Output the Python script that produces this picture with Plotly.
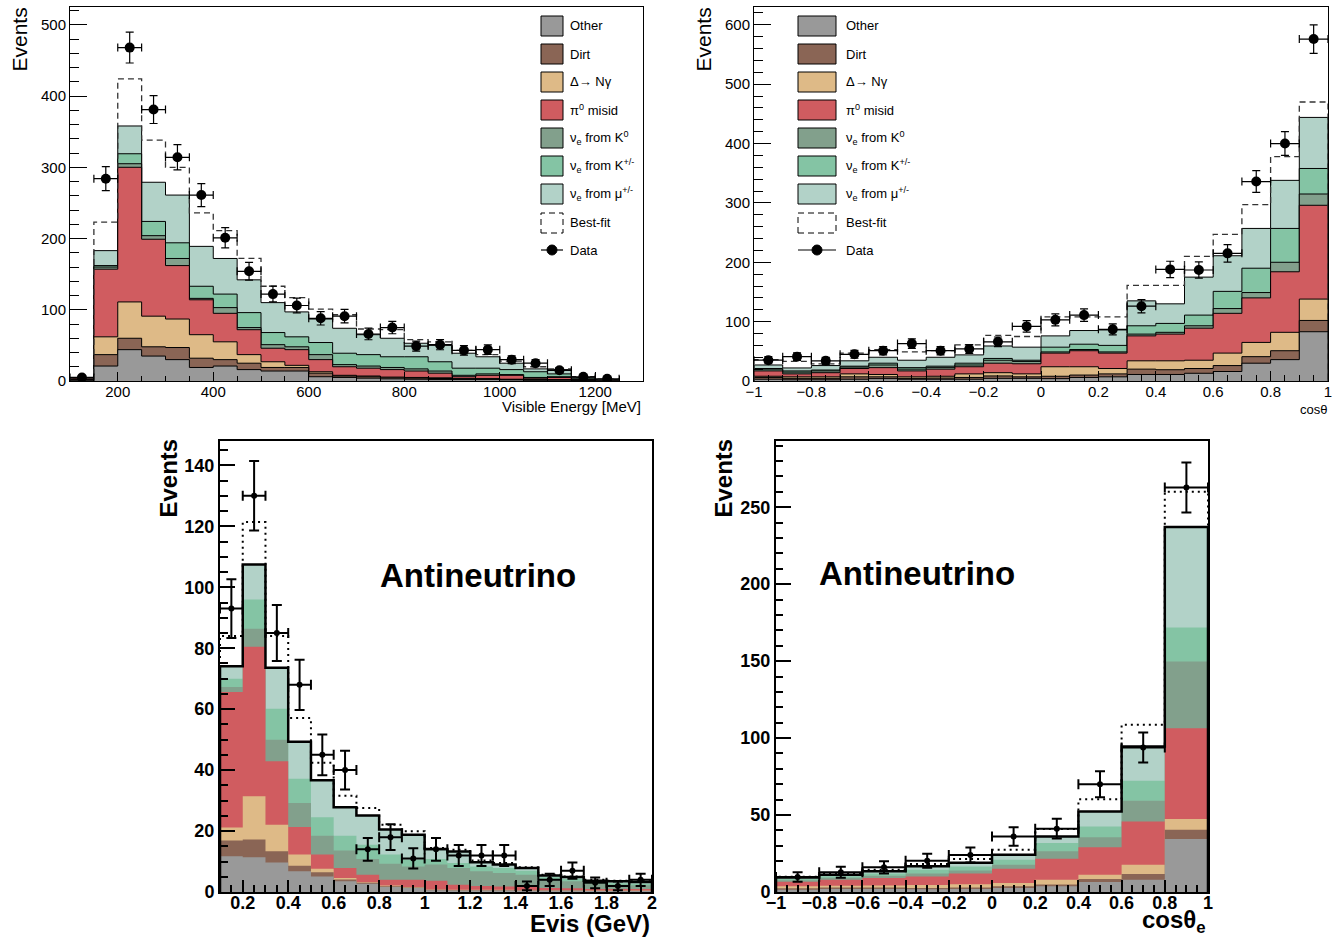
import numpy as np
import plotly.graph_objects as go

W, H = 1336, 940
FONT = "Liberation Sans, Arial, Helvetica, sans-serif"

LABELS = ["Other", "Dirt", "Δ→ Nγ", "π<sup>0</sup> misid",
          "ν<sub>e</sub> from K<sup>0</sup>", "ν<sub>e</sub> from K<sup>+/-</sup>",
          "ν<sub>e</sub> from μ<sup>+/-</sup>"]
COLORS = ["#999999", "#8a6555", "#deba87", "#d05c60", "#82a08c", "#84c4a4", "#b2d2c8"]

# ---------------- top-left: visible energy [MeV] ----------------
E_EDGES = list(range(100, 1300, 50))
E_OTHER = [1, 21, 44, 35, 30, 19, 21, 16, 14, 14, 6, 5, 4, 3, 2.5, 2, 2, 2, 1.5, 1, 1, 0.5, 0.2]
E_DIRT = [1, 16, 16, 13, 17, 13, 9, 9, 5, 5, 5, 2, 2, 1.5, 1.5, 1.5, 1, 1, 0.5, 0.5, 0.5, 0.3, 0.1]
E_DELTA = [0.5, 25, 51, 43, 40, 33, 25, 12, 8, 3, 2, 1, 1, 1, 1, 1, 0.5, 0.5, 0.5, 0.5, 0.5, 0.2, 0.1]
E_PI0 = [1.5, 95, 189, 108, 75, 49, 40, 35, 19, 22, 17, 12, 11, 10.5, 9, 6.5, 2.5, 4.5, 5.5, 2, 3, 1, 0.1]
E_K0 = [0, 3, 5, 5, 10, 2, 8, 3, 5, 4, 7, 3, 3, 3, 3, 3, 2, 2, 1, 1, 1, 0.5, 0.2]
E_KPM = [0.2, 2, 14, 20, 22, 17, 19, 21, 17, 14, 17, 16, 16, 15, 17, 13, 10, 8, 7, 8, 4, 1.5, 0.3]
E_MU = [0.3, 21, 39, 55, 67, 56, 50, 46, 42, 35, 33, 35, 28, 26, 19, 23, 21, 16, 9, 4, 6, 1, 1]
E_BESTFIT = [4.5, 223, 424, 338, 300, 236, 211, 172, 133, 117, 101, 93, 73, 72, 58, 55, 43, 37, 28, 20, 17, 6, 2.5]
E_DATA = [5, 284, 468, 381, 314, 261, 201, 154, 122, 106, 88, 91, 66, 75, 49, 51, 43, 44, 30, 25, 15, 6, 3]

# ---------------- top-right: cos theta ----------------
C_EDGES = [round(-1 + 0.1 * i, 2) for i in range(21)]
C_OTHER = [3, 2, 2, 3, 4, 3, 3, 3, 4.5, 4.5, 4, 6, 7, 11, 11, 13, 16, 30, 36, 83]
C_DIRT = [3, 2.5, 2.5, 4, 3, 1.5, 2, 3, 4, 2.5, 4, 4, 5, 9, 8, 8, 10, 11, 15, 19]
C_DELTA = [2, 2.5, 2.5, 5, 4, 2.5, 3, 6, 5.5, 5, 16, 14, 9, 14, 15, 14, 21, 24, 31, 36]
C_PI0 = [9, 5, 7, 9, 11.5, 10, 12, 12, 16, 17, 23, 27, 26, 42, 45, 54, 67, 75, 102, 158]
C_K0 = [3, 3, 3, 2.5, 4.5, 3, 3, 3, 5, 4, 2, 2, 2, 3, 3, 4, 8, 9, 16, 19]
C_KPM = [1, 2, 1.5, 1.5, 3, 2.5, 2, 3, 3, 2, 8, 9, 11, 14, 15, 18, 29, 41, 57, 43]
C_MU = [6, 5, 7.5, 9, 10, 12.5, 15, 14, 21, 22, 19, 23, 26, 42, 33, 64, 60, 67, 81, 86]
C_BESTFIT = [36, 33, 29, 47, 53, 49, 51, 61, 77, 75, 108, 108, 108, 161, 161, 210, 247, 297, 378, 470]
C_DATA = [35, 41, 34, 45, 51, 63, 51, 54, 66, 92, 103, 111, 87, 126, 188, 187, 215, 336, 400, 576]

# ---------------- bottom-left: antineutrino Evis [GeV] ----------------
A_EDGES = [round(0.1 + 0.1 * i, 2) for i in range(20)]
A_OTHER = [11.7, 11.4, 9.7, 6.8, 5.1, 3.5, 2.7, 1.6, 1.3, 0.6, 0.5, 0.5, 0.5, 0.4, 0.4, 0.4, 0.3, 0.3, 0.3]
A_DIRT = [5.2, 5.8, 3.7, 1.8, 1.4, 0.6, 0.3, 0.3, 0.2, 0.1, 0.1, 0.1, 0.1, 0.1, 0.1, 0.1, 0.1, 0.1, 0.1]
A_DELTA = [4.3, 14.2, 8.7, 3.7, 1.1, 0.5, 0.2, 0.2, 0.1, 0.1, 0.1, 0.1, 0.1, 0.1, 0.1, 0.1, 0.1, 0.1, 0.1]
A_PI0 = [44.4, 49.1, 20.8, 9.0, 4.7, 3.3, 2.5, 1.9, 2.4, 2.9, 1.7, 1.3, 1.1, 1.0, 0.7, 0.6, 0.5, 0.5, 0.5]
A_K0 = [1.7, 5.9, 7.1, 7.9, 6.2, 5.7, 5.1, 5.3, 4.4, 5.3, 5.5, 4.8, 4.4, 4.1, 2.7, 2.3, 1.7, 1.4, 1.2]
A_KPM = [2.7, 9.6, 10.1, 8.0, 6.0, 4.9, 4.7, 3.0, 2.2, 1.8, 1.6, 1.6, 1.7, 1.3, 0.8, 0.8, 0.5, 0.5, 0.5]
A_MU = [4.1, 11.5, 13.5, 12.1, 12.2, 9.3, 9.6, 8.2, 8.2, 3.3, 3.8, 1.4, 1.1, 0.9, 0.6, 0.6, 0.5, 0.6, 0.6]
A_BESTFIT = [84, 121.4, 84, 57.1, 42.4, 31.6, 27.6, 22.1, 19.9, 14.4, 13.9, 10.3, 9.5, 8.1, 5.7, 5.1, 4.0, 3.7, 3.5]
A_DATA = [93, 130, 85, 68, 45, 40, 14, 18, 11, 14, 12, 12, 12, 2, 4, 7, 3, 2, 4]

# ---------------- bottom-right: antineutrino cos theta_e ----------------
B_EDGES = [round(-1 + 0.2 * i, 2) for i in range(11)]
B_OTHER = [1.5, 1.9, 1.9, 1.8, 2.0, 2.6, 3.7, 6.5, 8.0, 34.4]
B_DIRT = [0.9, 1.1, 1.1, 0.8, 1.0, 1.1, 1.1, 1.9, 3.7, 6.0]
B_DELTA = [1.3, 1.1, 1.3, 1.9, 2.0, 2.1, 3.2, 2.8, 6.0, 7.0]
B_PI0 = [3.0, 3.9, 4.8, 5.5, 7.0, 9.3, 13.6, 17.8, 28.1, 59.0]
B_K0 = [0.9, 1.2, 1.4, 2.0, 2.0, 2.6, 4.8, 6.5, 13.5, 43.3]
B_KPM = [0.8, 1.1, 1.5, 2.5, 2.5, 3.3, 5.4, 7.1, 12.9, 22.2]
B_MU = [1.1, 0.9, 1.4, 2.2, 2.5, 3.2, 4.2, 9.7, 22.3, 65.3]
B_BESTFIT = [9.9, 12.3, 14.5, 18.2, 21.4, 27.5, 41.0, 60.3, 108.6, 260.0]
B_DATA = [9.7, 12.8, 16, 20.3, 24, 36.1, 41.1, 70, 93.9, 262.8]


def steps(edges, vals):
    n = len(vals)
    x = [edges[0]] + list(edges[:n]) + [edges[n], edges[n]]
    y = [0.0] + [float(v) for v in vals] + [float(vals[-1]), 0.0]
    return x, y


fig = go.Figure()


def add_panel(xa, ya, edges, comps, bestfit, data, top):
    comps = np.array(comps, dtype=float)
    cum = np.cumsum(comps, axis=0)
    for i in range(len(comps) - 1, -1, -1):
        x, y = steps(edges, cum[i])
        if top:
            line = dict(shape="hv", color="black", width=1)
        else:
            line = dict(shape="hv", color=COLORS[i], width=0)
        fig.add_trace(go.Scatter(x=x, y=y, mode="lines", line=line, fill="tozeroy",
                                 fillcolor=COLORS[i], xaxis=xa, yaxis=ya,
                                 hoverinfo="skip", showlegend=False))
    if not top:
        x, y = steps(edges, cum[-1])
        fig.add_trace(go.Scatter(x=x, y=y, mode="lines",
                                 line=dict(shape="hv", color="black", width=2.5),
                                 xaxis=xa, yaxis=ya, hoverinfo="skip", showlegend=False))
    x, y = steps(edges, bestfit)
    if top:
        bl = dict(shape="hv", color="#333333", width=1.3, dash="6px,4px")
    else:
        bl = dict(shape="hv", color="black", width=2, dash="2px,4px")
    fig.add_trace(go.Scatter(x=x, y=y, mode="lines", line=bl, xaxis=xa, yaxis=ya,
                             hoverinfo="skip", showlegend=False))
    e = np.array(edges, dtype=float)
    centers = (e[:-1] + e[1:]) / 2
    half = (e[1:] - e[:-1]) / 2
    d = np.array(data, dtype=float)
    th = 1.2 if top else 2
    cap = 4 if top else 5
    fig.add_trace(go.Scatter(
        x=centers, y=d, mode="markers",
        marker=dict(color="black", size=10 if top else 6),
        error_x=dict(type="data", array=half, color="black", thickness=th, width=cap),
        error_y=dict(type="data", array=np.sqrt(d), color="black", thickness=th, width=cap),
        xaxis=xa, yaxis=ya, hoverinfo="skip", showlegend=False))


add_panel("x", "y", E_EDGES, [E_OTHER, E_DIRT, E_DELTA, E_PI0, E_K0, E_KPM, E_MU], E_BESTFIT, E_DATA, True)
add_panel("x2", "y2", C_EDGES, [C_OTHER, C_DIRT, C_DELTA, C_PI0, C_K0, C_KPM, C_MU], C_BESTFIT, C_DATA, True)
add_panel("x3", "y3", A_EDGES, [A_OTHER, A_DIRT, A_DELTA, A_PI0, A_K0, A_KPM, A_MU], A_BESTFIT, A_DATA, False)
add_panel("x4", "y4", B_EDGES, [B_OTHER, B_DIRT, B_DELTA, B_PI0, B_K0, B_KPM, B_MU], B_BESTFIT, B_DATA, False)


def px(p):
    return p / W


def py(p):
    return 1 - p / H


def mk_axis(domain, rng, anchor, tick0, dtick, mdtick, tl, mtl, top, standoff=0):
    return dict(
        domain=domain, range=rng, anchor=anchor, tick0=tick0, dtick=dtick,
        ticks="inside", ticklen=tl, tickwidth=1 if top else 2, tickcolor="black",
        minor=dict(dtick=mdtick, ticks="inside", ticklen=mtl, tickwidth=1 if top else 2,
                   tickcolor="black", showgrid=False),
        showline=True, mirror=True, linecolor="black", linewidth=1 if top else 2,
        showgrid=False, zeroline=False, automargin=False, fixedrange=True,
        ticklabelstandoff=standoff,
        tickfont=dict(family=FONT, size=15 if top else 18, color="black",
                      weight="normal" if top else "bold"),
    )


layout = dict(
    width=W, height=H, margin=dict(l=0, r=0, t=0, b=0),
    paper_bgcolor="white", plot_bgcolor="white", showlegend=False,
    xaxis=mk_axis([px(70), px(643)], [100, 1300], "y", 0, 200, 50, 9, 5, True, -3),
    yaxis=mk_axis([py(381), py(7)], [0, 525], "x", 0, 100, 20, 17, 9, True),
    xaxis2=mk_axis([px(754), px(1328)], [-1, 1], "y2", -1, 0.2, 0.05, 10, 6, True, -3),
    yaxis2=mk_axis([py(381), py(7)], [0, 630], "x2", 0, 100, 20, 17, 9, True),
    xaxis3=mk_axis([px(220), px(652)], [0.1, 2.0], "y3", 0, 0.2, 0.05, 12, 7, False, -7),
    yaxis3=mk_axis([py(892), py(441)], [0, 148], "x3", 0, 20, 5, 15, 7.5, False),
    xaxis4=mk_axis([px(776), px(1208)], [-1, 1], "y4", -1, 0.2, 0.05, 12, 7, False, -7),
    yaxis4=mk_axis([py(892), py(441)], [0, 293], "x4", 0, 50, 10, 15, 7, False),
)

ann = []
shapes = []


def text(x, y, s, size, xanchor="center", angle=0, bold=False):
    ann.append(dict(x=px(x), y=py(y), xref="paper", yref="paper", text=s, showarrow=False,
                    xanchor=xanchor, yanchor="middle", textangle=angle,
                    font=dict(family=FONT, size=size, color="black",
                              weight="bold" if bold else "normal")))


text(19.5, 40, "Events", 21, angle=-90)
text(703.5, 40, "Events", 21, angle=-90)
text(643, 406, "Visible Energy [MeV]", 15, xanchor="right")
text(1329, 409, "cosθ", 13, xanchor="right")
text(167.5, 478, "Events", 24, angle=-90, bold=True)
text(722.5, 478, "Events", 24, angle=-90, bold=True)
text(652, 923, "Evis (GeV)", 24, xanchor="right", bold=True)
text(1208, 921, "cosθ<sub>e</sub>", 24, xanchor="right", bold=True)
text(478, 575, "Antineutrino", 33, bold=True)
text(917, 573, "Antineutrino", 33, bold=True)

LEG_ROWS = [26, 54, 82, 110, 138, 166, 194, 223, 250]
for (bx0, bx1, tx) in [(541, 563, 568), (798, 836, 844)]:
    for i in range(7):
        yc = LEG_ROWS[i]
        shapes.append(dict(type="rect", xref="paper", yref="paper", x0=px(bx0), x1=px(bx1),
                           y0=py(yc + 10), y1=py(yc - 10), fillcolor=COLORS[i],
                           line=dict(color="black", width=1)))
        text(tx, yc, LABELS[i], 13, xanchor="left")
    yc = LEG_ROWS[7]
    shapes.append(dict(type="rect", xref="paper", yref="paper", x0=px(bx0), x1=px(bx1),
                       y0=py(yc + 10), y1=py(yc - 10), fillcolor="rgba(0,0,0,0)",
                       line=dict(color="black", width=1, dash="6px,4px")))
    text(tx, yc, "Best-fit", 13, xanchor="left")
    yc = LEG_ROWS[8]
    shapes.append(dict(type="line", xref="paper", yref="paper", x0=px(bx0), x1=px(bx1),
                       y0=py(yc), y1=py(yc), line=dict(color="black", width=1.2)))
    cx = (bx0 + bx1) / 2
    shapes.append(dict(type="circle", xref="paper", yref="paper", x0=px(cx - 5), x1=px(cx + 5),
                       y0=py(yc + 5), y1=py(yc - 5), fillcolor="black",
                       line=dict(color="black", width=1)))
    text(tx, yc, "Data", 13, xanchor="left")

layout["annotations"] = ann
layout["shapes"] = shapes
fig.update_layout(**layout)
fig.write_html("out.html")
